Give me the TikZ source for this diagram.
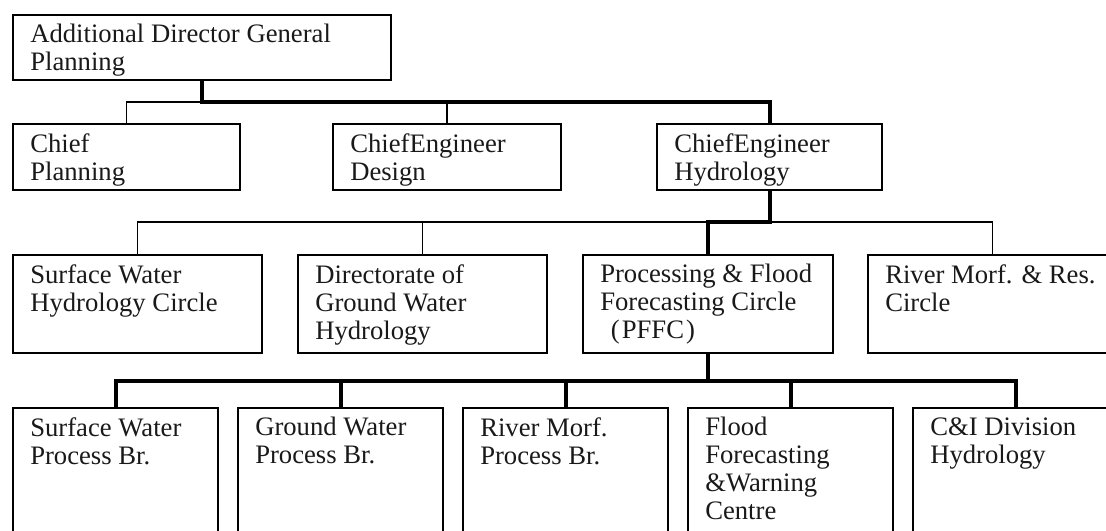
\documentclass[tikz,border=0pt]{standalone}
\usepackage{fontspec}
\setmainfont{Liberation Serif}
\begin{document}
\begin{tikzpicture}[x=0.75pt,y=-0.75pt,
  box/.style={draw, line width=1.2pt, inner sep=0pt, outer sep=0pt, anchor=north west},
  lbl/.style={anchor=north west, inner sep=0pt, align=left, text=black!90,
              font=\fontsize{20pt}{21pt}\selectfont},
  thinline/.style={line width=1.1pt},
  boldline/.style={line width=3pt}]
\useasboundingbox (0,0) rectangle (1106,531);
\clip (0,0) rectangle (1106,531);

% level 1
\node[box, minimum width=283.5pt, minimum height=48.75pt] (adg) at (13,15) {};
% level 2
\node[box, minimum width=170.25pt, minimum height=49.5pt] (plan) at (13,124) {};
\node[box, minimum width=171pt,    minimum height=49.5pt] (des)  at (333,124) {};
\node[box, minimum width=168.75pt, minimum height=49.5pt] (hyd)  at (657,124) {};
% level 3
\node[box, minimum width=186.75pt, minimum height=73.5pt] (swhc) at (13,255) {};
\node[box, minimum width=186.75pt, minimum height=73.5pt] (dir)  at (298,255) {};
\node[box, minimum width=187.5pt,  minimum height=73.5pt] (pffc) at (583,255) {};
\node[box, minimum width=186.75pt, minimum height=73.5pt] (rmr)  at (868,255) {};
% level 4
\node[box, minimum width=153.75pt, minimum height=150pt] (swp) at (13,408) {};
\node[box, minimum width=153.75pt, minimum height=150pt] (gwp) at (238,408) {};
\node[box, minimum width=153.75pt, minimum height=150pt] (rmp) at (463,408) {};
\node[box, minimum width=153.75pt, minimum height=150pt] (ffw) at (688,408) {};
\node[box, minimum width=153.75pt, minimum height=150pt] (cid) at (913,408) {};

% box texts, set at the top left of each box
\tikzset{pos tl/.style={xshift=12.75pt, yshift=-6.75pt}}
\node[lbl] (adgT)  at ([pos tl]adg.north west)  {Additional Director General\\Planning};
\node[lbl] (planT) at ([pos tl]plan.north west) {Chief\\Planning};
\node[lbl] (desT)  at ([pos tl]des.north west)  {ChiefEngineer\\Design};
\node[lbl] (hydT)  at ([pos tl]hyd.north west)  {ChiefEngineer\\Hydrology};
\node[lbl] (swhcT) at ([pos tl]swhc.north west) {Surface Water\\Hydrology Circle};
\node[lbl] (dirT)  at ([pos tl]dir.north west)  {Directorate of\\Ground Water\\Hydrology};
\node[lbl] (pffcT) at ([pos tl]pffc.north west) {Processing \& Flood\\Forecasting Circle\\\hspace*{8pt}(\kern1.5pt PFFC\kern1.5pt)};
\node[lbl] (rmrT)  at ([pos tl]rmr.north west)  {River Morf. \& Res.\\Circle};
\node[lbl] (swpT)  at ([pos tl]swp.north west)  {Surface Water\\Process Br.};
\node[lbl] (gwpT)  at ([pos tl]gwp.north west)  {Ground Water\\Process Br.};
\node[lbl] (rmpT)  at ([pos tl]rmp.north west)  {River Morf.\\Process Br.};
\node[lbl] (ffwT)  at ([pos tl]ffw.north west)  {Flood\\Forecasting\\\&Warning\\Centre\\[3pt]\hspace*{13pt}(\kern1.5pt FFWC\kern1.5pt)};
\node[lbl] (cidT)  at ([pos tl]cid.north west)  {C\&I Division\\Hydrology};

% connector levels
\coordinate (l1) at (0,102);
\coordinate (l2) at (0,222);
\coordinate (l3) at (0,381);

% level 1 -> level 2
\draw[thinline] (plan.north) |- (adg.south |- l1);
\draw[thinline] (des.north) -- (des.north |- l1);
\draw[boldline] (adg.south) -- (adg.south |- l1) -| (hyd.north);

% level 2 -> level 3
\draw[thinline] (swhc.north) |- (rmr.north |- l2) -- (rmr.north);
\draw[thinline] (dir.north) -- (dir.north |- l2);
\draw[boldline] (hyd.south) -- (hyd.south |- l2) -| (pffc.north);

% level 3 -> level 4
\draw[boldline] (swp.north) |- (cid.north |- l3) -- (cid.north);
\draw[boldline] (gwp.north) -- (gwp.north |- l3);
\draw[boldline] (rmp.north) -- (rmp.north |- l3);
\draw[boldline] (ffw.north) -- (ffw.north |- l3);
\draw[boldline] (pffc.south) -- (pffc.south |- l3);
\end{tikzpicture}
\end{document}
